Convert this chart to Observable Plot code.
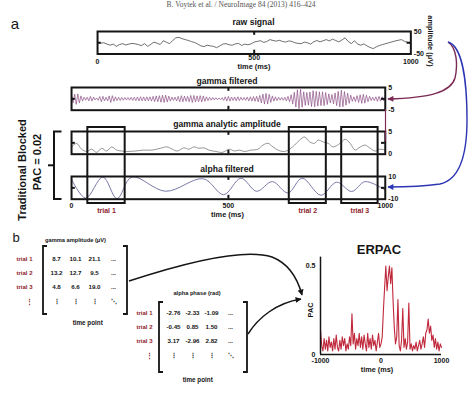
<!DOCTYPE html>
<html><head><meta charset="utf-8">
<script src="https://cdn.jsdelivr.net/npm/d3@7"></script>
<script src="https://cdn.jsdelivr.net/npm/@observablehq/plot@0.6"></script>
<style>
html,body{margin:0;padding:0;background:#fff;}
#fig{position:relative;width:474px;height:399px;overflow:hidden;background:#fff;}
</style></head><body><div id="fig"></div>
<script>
// ---------------- DATA ----------------
// raw signal (µV), one sample every 10 ms, 0..1000 ms
const rawSignal = [2,-2,0,-6,-11,-6,-16,-8,-4,-10,
 -6,-3,-5,-8,-13,-4,-16,-7,3,-2,
 -8,9,2,-4,10,22,24,18,14,10,
 5,1,-6,-14,-17,-11,-14,-16,-22,-14,
 -6,-4,-9,-11,-5,-3,-12,-6,-9,-5,
 3,6,9,2,5,14,10,7,11,6,
 3,8,6,0,-3,-4,3,0,-6,4,
 10,4,9,14,8,16,10,4,12,22,
 6,-4,9,-6,-11,-5,-14,-21,-26,-18,
 -12,-8,-4,0,4,8,11,14,6,2,-4];
// gamma filtered (µV), one sample every 5 ms
const gammaFiltered = [
 1.5,-1.8,2.1,-2.4,2.2,-1.8,1.3,-1.0,0.7,-0.6,0.7,-0.9,1.1,-1.0,0.8,-0.5,0.4,-0.7,1.0,-1.3,
 1.1,-0.9,0.7,-0.9,1.3,-1.6,1.4,-1.1,0.9,-0.8,0.7,-0.7,0.6,-0.6,0.6,-0.5,0.6,-0.6,0.7,-0.7,
 0.7,-0.8,0.8,-0.9,0.9,-0.9,0.8,-0.9,0.9,-0.9,0.9,-1.0,1.1,-1.2,1.3,-1.3,1.4,-1.5,1.6,-1.6,
 1.6,-1.4,1.2,-1.0,0.8,-0.7,0.7,-0.9,1.1,-1.3,1.4,-1.3,1.2,-1.1,1.1,-1.3,1.5,-1.6,1.5,-1.4,
 1.3,-1.3,1.4,-1.4,1.3,-1.1,0.9,-0.8,0.7,-0.6,0.6,-0.5,0.5,-0.4,0.4,-0.4,0.5,-0.7,0.9,-1.0,
 1.1,-1.0,0.8,-0.7,0.8,-0.9,0.9,-0.8,0.7,-0.6,0.6,-0.7,0.8,-0.9,0.9,-1.0,1.0,-1.1,1.1,-1.3,
 1.5,-1.8,2.1,-2.3,2.4,-2.3,2.0,-1.6,1.3,-1.0,0.9,-0.8,0.7,-0.6,0.6,-0.6,0.7,-0.9,1.1,-1.3,
 1.8,-2.3,2.9,-3.6,4.0,-4.3,4.2,-3.7,3.1,-2.9,2.8,-2.8,3.0,-3.4,3.6,-3.5,3.3,-3.2,3.1,-3.0,
 3.1,-3.0,2.8,-2.5,2.2,-1.8,1.9,-2.3,2.6,-3.0,3.3,-3.6,3.8,-3.5,3.2,-2.8,2.5,-2.0,1.6,-1.1,
 0.9,-1.2,1.4,-1.6,1.8,-2.0,2.0,-1.9,1.6,-1.3,1.1,-0.8,0.7,-0.8,0.9,-1.1,1.1,-1.0,0.9,-0.9,
 0.8];
// gamma analytic amplitude (µV)
const gammaAmpTimes = [0,16,32,48,64,80,96,112,128,144,160,176,203,230,257,283,305,321,337,358,374,390,406,422,438,460,481,503,519,535,551,572,594,610,626,642,658,679,695,711,727,743,759,775,786,802,818,834,856,872,888,904,920,936,952,968,984,1000];
const gammaAmpValues = [1.6,2.4,1.1,0.6,1.1,0.4,1.3,0.7,1.6,0.9,0.7,0.6,0.7,0.9,0.9,1.3,1.6,1.1,0.7,1.4,1.1,1.6,1.3,1.4,0.9,0.6,0.4,1.1,0.7,0.9,0.6,0.9,1.1,2.0,2.4,1.6,0.9,0.6,1.1,2.0,3.1,3.8,2.7,2.4,3.1,2.7,2.4,1.6,2.4,3.3,2.4,0.9,1.6,2.0,1.3,0.7,1.1,0.9];
// alpha filtered (µV), turning points
const alphaTimes = [0,45,100,145,192,300,420,485,540,590,640,690,735,795,845,893,936,1000];
const alphaValues = [7.5,-9,9.5,-9.5,9.5,-3,8,-6,8.5,-3,5.5,-4.5,8.5,-6.5,5,-3.2,5.5,-2];
// trials
const trialLabels = ["trial 1","trial 2","trial 3"];
const trialStarts = [53,695,862];
const trialEnds = [172,813,978];
// matrices
const matrixRows = ["trial 1","trial 2","trial 3"];
const gammaAmplitude = [[8.7,10.1,21.1],[13.2,12.7,9.5],[4.8,6.6,19.0]];
const alphaPhase = [[-2.76,-2.33,-1.09],[-0.45,0.85,1.50],[3.17,-2.96,2.82]];
// ERPAC, one value every 20 ms, -1000..1000 ms
const erpacValues = [0.14,0.05,0.02,0.09,0.03,0.08,0.02,0.10,0.04,0.07,
 0.02,0.09,0.03,0.11,0.04,0.02,0.08,0.03,0.10,0.05,
 0.09,0.02,0.06,0.03,0.10,0.05,0.23,0.06,0.12,0.03,
 0.09,0.05,0.12,0.04,0.10,0.03,0.11,0.06,0.02,0.12,
 0.04,0.09,0.03,0.11,0.05,0.08,0.02,0.07,0.12,0.04,
 0.06,0.10,0.25,0.38,0.50,0.36,0.44,0.50,0.40,0.49,
 0.30,0.15,0.06,0.10,0.31,0.05,0.02,0.08,0.26,0.04,
 0.09,0.03,0.07,0.29,0.03,0.06,0.02,0.05,0.03,0.07,
 0.02,0.05,0.08,0.03,0.06,0.10,0.04,0.12,0.14,0.20,
 0.12,0.16,0.08,0.11,0.04,0.09,0.03,0.07,0.02,0.06,0.04];
// tick labels
const timeTicks = [0,500,1000];
const rawYTicks = [-50,50];
const gammaYTicks = [-5,5];
const ampYTicks = [0,5];
const alphaYTicks = [-10,10];
const erpacXTicks = [-1000,0,1000];
const erpacYTicks = [0,0.5];

// ---------------- TABLES ----------------
const evenSeries = (vals, t0, t1) => vals.map((v,i)=>({t: t0 + i*(t1-t0)/(vals.length-1), v}));
const pairSeries = (ts, vs) => ts.map((t,i)=>({t, v: vs[i]}));
const rawData = evenSeries(rawSignal, 0, 1000);
const gammaData = evenSeries(gammaFiltered, 0, 1000);
const ampData = pairSeries(gammaAmpTimes, gammaAmpValues);
const alphaData = pairSeries(alphaTimes, alphaValues);
const erpacData = evenSeries(erpacValues, -1000, 1000);
const trials = trialLabels.map((label,i)=>({label, start: trialStarts[i], end: trialEnds[i]}));

// ---------------- RENDER ----------------
const fig = document.getElementById("fig");
const FONT = '"Liberation Sans", Arial, Helvetica, sans-serif';
const INK = "#151515";
const TRIAL_RED = "#8e1d2e";
const fmt = d => String(d);
function put(el, left, top) {
  el.style.position = "absolute"; el.style.left = left + "px"; el.style.top = top + "px";
  fig.appendChild(el); return el;
}
const baseStyle = {background:"transparent", overflow:"visible", fontFamily: FONT, fontWeight:"bold", fontSize:"7px", color: INK, maxWidth:"none"};

function tracePanel({box, yDomain, yTicks, sideTick, data, stroke, strokeWidth, curve, axes = []}) {
  const [bx0, by0, bx1, by1] = box;
  const left = bx0 - 20, top = by0 - 8, width = bx1 - bx0 + 55, height = by1 - by0 + 26;
  const span = yDomain[1] - yDomain[0];
  const marks = [
    Plot.line(data, {x:"t", y:"v", stroke, strokeWidth, curve}),
    Plot.ruleX([500], {y1: yDomain[1], y2: yDomain[1] - 0.17*span, stroke: INK, strokeWidth: 2}),
    Plot.ruleX([500], {y1: yDomain[0], y2: yDomain[0] + 0.17*span, stroke: INK, strokeWidth: 2}),
    Plot.ruleY([sideTick], {x1: 0, x2: 12, stroke: INK, strokeWidth: 2}),
    Plot.ruleY([sideTick], {x1: 988, x2: 1000, stroke: INK, strokeWidth: 2}),
    Plot.frame({stroke: INK, strokeWidth: 2}),
    Plot.axisY({anchor:"right", ticks: yTicks, tickSize: 0, tickPadding: 3, tickFormat: fmt, label: null}),
    ...axes
  ];
  const el = Plot.plot({
    width, height,
    marginLeft: bx0 - left, marginRight: left + width - bx1,
    marginTop: by0 - top, marginBottom: top + height - by1,
    x: {domain: [0, 1000], axis: null, label: null},
    y: {domain: yDomain, axis: null, label: null},
    style: baseStyle, marks
  });
  put(el, left, top);
}

// raw signal
tracePanel({box:[97.3, 30.5, 410.7, 53], yDomain:[-50,50], yTicks: rawYTicks, sideTick: 0,
  data: rawData, stroke:"#4a4a4a", strokeWidth: 0.8, curve:"linear",
  axes: [
    Plot.axisX({ticks: timeTicks.filter(d => d !== 500), tickSize: 0, tickPadding: 5, tickFormat: fmt, label: null}),
    Plot.axisX({ticks: timeTicks.filter(d => d === 500), tickSize: 0, tickPadding: 1.5, tickFormat: fmt, label: null})
  ]});
// gamma filtered
tracePanel({box:[70.7, 86.5, 384.5, 109.2], yDomain:[-5,5], yTicks: gammaYTicks, sideTick: 0,
  data: gammaData, stroke:"#8d4f86", strokeWidth: 0.7, curve:"linear"});
// gamma analytic amplitude
tracePanel({box:[70.7, 131.3, 384.5, 154], yDomain:[0,5], yTicks: ampYTicks, sideTick: 2.5,
  data: ampData, stroke:"#7a7a7a", strokeWidth: 0.8, curve:"catmull-rom"});
// alpha filtered
tracePanel({box:[70.7, 176.3, 384.5, 199], yDomain:[-10,10], yTicks: alphaYTicks, sideTick: 0,
  data: alphaData, stroke:"#6a6aa0", strokeWidth: 0.9, curve:"catmull-rom",
  axes: [Plot.axisX({ticks: timeTicks, tickSize: 0, tickPadding: 3.5, tickFormat: fmt, label: null})]});

// trial boxes spanning the two lower panels
put(Plot.plot({
  width: 370, height: 76, marginLeft: 20.7, marginRight: 35.5, marginTop: 0, marginBottom: 0,
  x: {domain: [0, 1000], axis: null}, y: {domain: [0, 1], axis: null},
  style: baseStyle,
  marks: [
    Plot.rect(trials, {x1: "start", x2: "end", y1: 0, y2: 1, fill: "none", stroke: INK, strokeWidth: 2}),
    Plot.text(trials, {x: d => (d.start + d.end)/2, y: 0, text: "label", dy: 7, fill: TRIAL_RED, fontSize: 7, fontWeight: "bold"})
  ]
}), 50, 127.3);

// matrices
const cols = ["c1","c2","c3","c4"];
const rowsDomain = [...matrixRows, "more"];
function matrixCells(values, digits) {
  const cells = [];
  matrixRows.forEach((r, i) => {
    values[i].forEach((v, j) => cells.push({row: r, col: cols[j], text: v.toFixed(digits)}));
    cells.push({row: r, col: cols[3], text: "..."});
  });
  cols.forEach((c, j) => cells.push({row: "more", col: c, text: j < 3 ? "⋮" : "⋱"}));
  return cells;
}
function matrixPlot({left, top, width, height, x0, x1, y0, y1, cells, labelGap}) {
  put(Plot.plot({
    width, height,
    marginLeft: x0 - left, marginRight: left + width - x1,
    marginTop: y0 - top, marginBottom: top + height - y1,
    x: {type: "point", domain: cols, padding: 0, axis: null},
    y: {type: "point", domain: rowsDomain, padding: 0, axis: null},
    style: {...baseStyle, fontSize: "6px"},
    marks: [
      Plot.text(cells, {x: "col", y: "row", text: "text", fill: INK, fontSize: 6.2, fontWeight: "bold"}),
      Plot.text(matrixRows, {y: d => d, frameAnchor: "left", dx: -labelGap, textAnchor: "end", text: d => d, fill: TRIAL_RED, fontSize: 6, fontWeight: "bold"}),
      Plot.text(["more"], {y: d => d, frameAnchor: "left", dx: -labelGap - 7, text: () => "⋮", fill: TRIAL_RED, fontSize: 6.5})
    ]
  }), left, top);
}
matrixPlot({left: 0, top: 240, width: 140, height: 80, x0: 55, x1: 113, y0: 258, y1: 301, cells: matrixCells(gammaAmplitude, 1), labelGap: 23});
matrixPlot({left: 120, top: 295, width: 140, height: 85, x0: 172, x1: 231, y0: 311.7, y1: 356, cells: matrixCells(alphaPhase, 2), labelGap: 20});

// ERPAC
put(Plot.plot({
  width: 160, height: 130, marginLeft: 30, marginRight: 9, marginTop: 6.6, marginBottom: 26,
  x: {domain: [-1000, 1000], axis: null, label: null},
  y: {domain: [0, 0.55], axis: null, label: null},
  style: baseStyle,
  marks: [
    Plot.line(erpacData, {x: "t", y: "v", stroke: "#c0283c", strokeWidth: 1.1}),
    Plot.ruleX([-1000], {y1: 0, y2: 0.55, stroke: INK, strokeWidth: 1.5}),
    Plot.ruleY([0], {x1: -1000, x2: 1000, stroke: INK, strokeWidth: 1.5}),
    Plot.axisY({ticks: erpacYTicks, tickSize: 0, tickPadding: 5, tickFormat: fmt, label: null}),
    Plot.axisX({ticks: erpacXTicks, tickSize: 0, tickPadding: 3.5, tickFormat: fmt, label: null})
  ]
}), 290, 250);

// ---------------- ANNOTATION OVERLAY ----------------
const svg = d3.select(fig).append("svg")
  .attr("width", 474).attr("height", 399)
  .style("position", "absolute").style("left", "0px").style("top", "0px")
  .style("font-family", FONT).style("pointer-events", "none");
const defs = svg.append("defs");
function marker(id, color) {
  defs.append("marker").attr("id", id).attr("viewBox", "0 0 10 10").attr("refX", 9).attr("refY", 5)
    .attr("markerUnits", "userSpaceOnUse").attr("markerWidth", 7).attr("markerHeight", 6).attr("orient", "auto")
    .append("path").attr("d", "M0,0 L10,5 L0,10 z").attr("fill", color);
}
marker("mPurple", "#7b2a55"); marker("mBlue", "#2d36b4"); marker("mBlack", INK);

const paths = [
  {d: "M61.5,131.5 H54 V199 H61.5", stroke: INK, w: 2},
  {d: "M48,165.3 H54", stroke: INK, w: 2},
  {d: "M47,246 H43 V314 H47", stroke: INK, w: 1.8},
  {d: "M123,246 H127 V314 H123", stroke: INK, w: 1.8},
  {d: "M163,302 H159 V372 H163", stroke: INK, w: 1.8},
  {d: "M243,302 H247 V372 H243", stroke: INK, w: 1.8},
  {d: "M448,42 C457,48 458,65 455,78 C451,92 430,98 388,99", stroke: "#7b2a55", w: 1.4, m: "mPurple"},
  {d: "M385.5,109 V141", stroke: "#7b2a55", w: 1.2},
  {d: "M448,42 C462,46 467,80 467,120 C467,160 458,180 440,184 C420,187 402,187 388,187", stroke: "#2d36b4", w: 1.4, m: "mBlue"},
  {d: "M129,281 C190,261 245,248 272,257 C290,264 298,280 302,295", stroke: INK, w: 1.5, m: "mBlack"},
  {d: "M248,334 C258,318 276,303 301,299", stroke: INK, w: 1.5, m: "mBlack"}
];
paths.forEach(p => {
  const el = svg.append("path").attr("d", p.d).attr("fill", "none").attr("stroke", p.stroke).attr("stroke-width", p.w);
  if (p.m) el.attr("marker-end", `url(#${p.m})`);
});

const labels = [
  {t: "B. Voytek et al. / NeuroImage 84 (2013) 416–424", x: 241, y: 7, s: 7.5, w: "normal", fam: '"Liberation Serif", "DejaVu Serif", serif', fill: "#555"},
  {t: "a", x: 15, y: 28.5, s: 15, w: "normal"},
  {t: "b", x: 16, y: 242, s: 13, w: "normal"},
  {t: "raw signal", x: 253.5, y: 25, s: 8.6},
  {t: "time (ms)", x: 254, y: 68.5, s: 7.4},
  {t: "amplitude (μV)", x: 431, y: 41, s: 7.4, r: 90},
  {t: "gamma filtered", x: 227, y: 83.5, s: 8.6},
  {t: "gamma analytic amplitude", x: 227, y: 126.5, s: 8.6},
  {t: "alpha filtered", x: 227, y: 172, s: 8.6},
  {t: "time (ms)", x: 227.5, y: 216.5, s: 7.4},
  {t: "Traditional Blocked", x: 22, y: 170, s: 11, r: -90},
  {t: "PAC = 0.02", x: 37, y: 162, s: 11, r: -90},
  {t: "gamma amplitude (μV)", x: 75.5, y: 241.5, s: 5.7},
  {t: "time point", x: 87.7, y: 325, s: 6.3},
  {t: "alpha phase (rad)", x: 197, y: 295, s: 5.7},
  {t: "time point", x: 197.7, y: 382, s: 6.3},
  {t: "ERPAC", x: 379, y: 254, s: 13},
  {t: "time (ms)", x: 377, y: 372, s: 7.3},
  {t: "PAC", x: 310, y: 310, s: 7.3, r: -90}
];
labels.forEach(l => {
  const el = svg.append("text").text(l.t)
    .attr("text-anchor", "middle")
    .attr("font-size", l.s).attr("font-weight", l.w || "bold")
    .attr("fill", l.fill || INK);
  if (l.fam) el.attr("font-family", l.fam);
  if (l.r) el.attr("transform", `translate(${l.x},${l.y}) rotate(${l.r})`).attr("dy", "0.35em");
  else el.attr("x", l.x).attr("y", l.y);
});
</script></body></html>
